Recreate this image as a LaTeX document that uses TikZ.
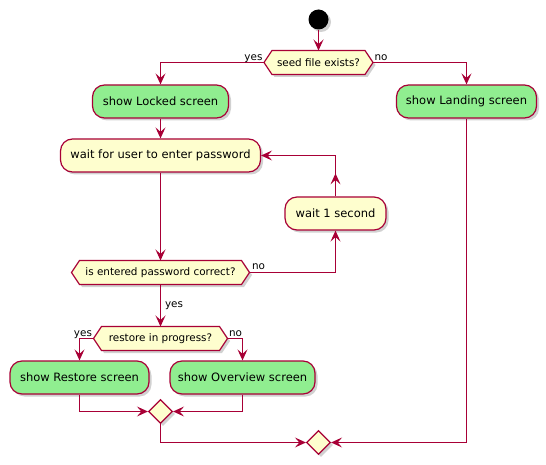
\documentclass[tikz,border=0pt]{standalone}
\usepackage{fontspec}
\setmainfont{DejaVu Sans}
\usetikzlibrary{arrows.meta,shapes.geometric,shadows,decorations.markings}
\definecolor{pline}{HTML}{A80036}
\definecolor{pyellow}{HTML}{FEFECE}
\definecolor{pgreen}{HTML}{90EE90}
\tikzset{
  shad/.style={drop shadow={shadow xshift=2.5pt,shadow yshift=-2.5pt,fill=black,opacity=0.18}},
  act/.style={draw=pline, line width=1.2pt, rounded corners=12pt, minimum height=33pt,
    inner sep=0pt, font=\fontsize{11.5}{13}\selectfont, shad},
  dtext/.style={font=\fontsize{10.4}{12}\selectfont, inner sep=0pt},
  dshape/.style={draw=pline, fill=pyellow, line width=1.2pt, shad},
  merge/.style={diamond, aspect=1, draw=pline, fill=pyellow, line width=1.2pt,
    minimum width=24pt, minimum height=24pt, inner sep=0pt, shad},
  ptip/.tip={Stealth[length=11pt,width=10pt,inset=4.5pt]},
  flow/.style={draw=pline, color=pline, line width=1.1pt, -ptip},
  lbl/.style={text=black, font=\fontsize{10.4}{12}\selectfont, inner sep=0pt},
  midtip/.style={decoration={markings, mark=at position #1 with {\arrow{ptip}}}, postaction={decorate}}
}
% name, x, y, half width, text
\newcommand\hexdec[5]{%
  \path[dshape] (#2-#4,#3) -- (#2-#4+8,#3-12) -- (#2+#4-8,#3-12) -- (#2+#4,#3)
    -- (#2+#4-8,#3+12) -- (#2-#4+8,#3+12) -- cycle;
  \node[dtext] (#1) at (#2,#3) {#5};
  \coordinate (#1w) at (#2-#4,#3);
  \coordinate (#1e) at (#2+#4,#3);
  \coordinate (#1n) at (#2,#3-12);
  \coordinate (#1s) at (#2,#3+12);
}
\begin{document}
\begin{tikzpicture}[x=1pt,y=-1pt]
\fill[white] (0,0) rectangle (546,465);
\useasboundingbox (0,0) rectangle (546,465);

\node[circle, fill=black, minimum size=20pt, inner sep=0pt, shad] (start) at (318.5,19.5) {};
\hexdec{d1}{318.5}{62.5}{54.5}{seed file exists?}
\node[act, fill=pgreen, minimum width=136pt] (locked) at (160.5,101.5) {show Locked screen};
\node[act, fill=pgreen, minimum width=140pt] (landing) at (466.5,101.5) {show Landing screen};
\node[act, fill=pyellow, minimum width=200pt] (wait) at (160.5,155.5) {wait for user to enter password};
\node[act, fill=pyellow, minimum width=101pt] (wait1) at (335.5,213.5) {wait 1 second};
\hexdec{d2}{160.5}{272.5}{89}{is entered password correct?}
\hexdec{d3}{160.5}{338.5}{67}{restore in progress?}
\node[act, fill=pgreen, minimum width=139pt] (restore) at (79.5,377.5) {show Restore screen};
\node[act, fill=pgreen, minimum width=145pt] (overview) at (242.5,377.5) {show Overview screen};
\node[merge] (m1) at (160.5,411.5) {};
\node[merge] (m2) at (318.5,442.5) {};

\draw[flow] (start) -- (d1n);
\draw[flow] (d1w) node[lbl, anchor=base east, xshift=-1pt, yshift=2pt] {yes} -| (locked.north);
\draw[flow] (d1e) node[lbl, anchor=base west, xshift=1pt, yshift=2pt] {no} -| (landing.north);
\draw[flow] (locked) -- (wait);
\draw[flow] (wait) -- (d2n);
\draw[flow] (d2e) node[lbl, anchor=base west, xshift=2pt, yshift=3pt] {no} -| (wait1.south);
\draw[flow, midtip=23pt] (wait1.north) |- (wait.east);
\draw[flow] (d2s) -- node[lbl, anchor=west, xshift=4pt] {yes} (d3n);
\draw[flow] (d3w) node[lbl, anchor=base east, xshift=-1pt, yshift=2pt] {yes} -| (restore.north);
\draw[flow] (d3e) node[lbl, anchor=base west, xshift=1pt, yshift=2pt] {no} -| (overview.north);
\draw[flow] (restore) |- (m1);
\draw[flow] (overview) |- (m1);
\draw[flow] (m1) |- (m2);
\draw[flow] (landing) |- (m2);
\end{tikzpicture}
\end{document}
